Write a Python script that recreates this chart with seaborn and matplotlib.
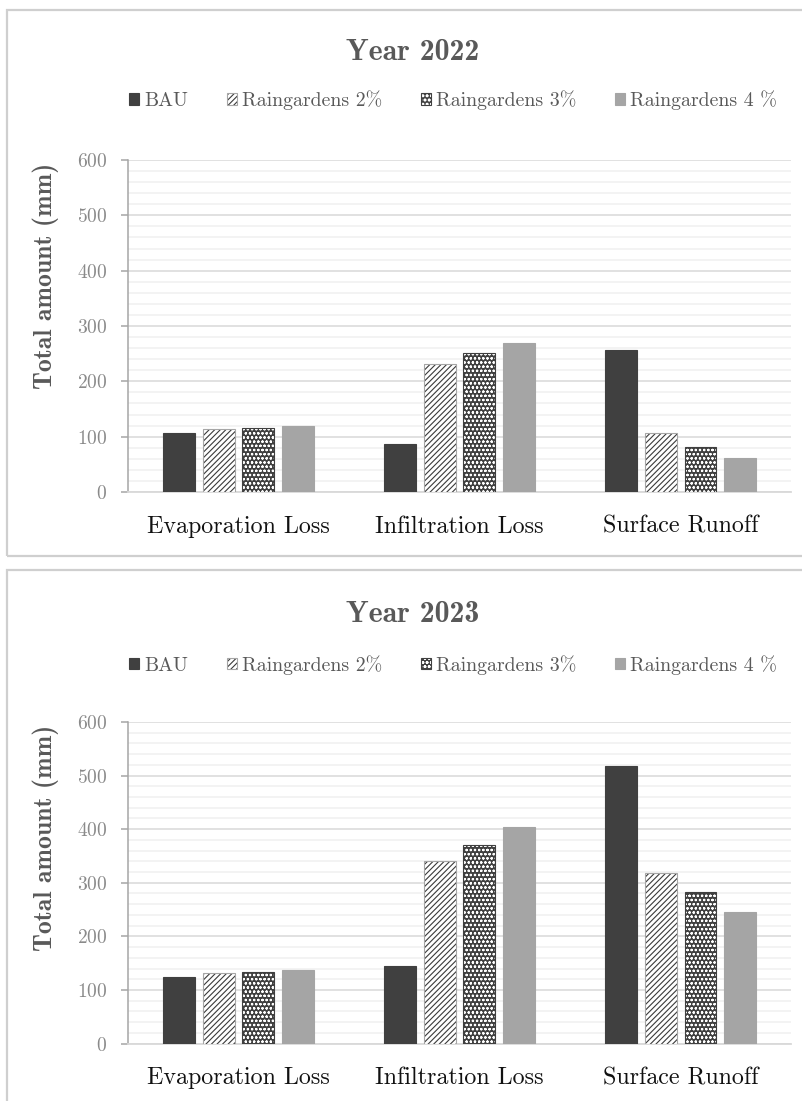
import matplotlib
matplotlib.use("Agg")
import matplotlib.pyplot as plt
import matplotlib.colors as mcolors
from matplotlib.patches import Patch, Rectangle
from matplotlib.ticker import MultipleLocator
import numpy as np
import pandas as pd
import seaborn as sns

# ---- data -------------------------------------------------------------
categories = ["Evaporation Loss", "Infiltration Loss", "Surface Runoff"]
scenarios = ["BAU", "Raingardens 2%", "Raingardens 3%", "Raingardens 4 %"]

bau_2022 = [107, 86, 257]
rg2_2022 = [113, 231, 106]
rg3_2022 = [116, 251, 82]
rg4_2022 = [120, 270, 61]

bau_2023 = [124, 145, 518]
rg2_2023 = [131, 340, 319]
rg3_2023 = [134, 371, 283]
rg4_2023 = [137, 404, 246]

years = ["Year 2022", "Year 2023"]
y_ticks = [0, 100, 200, 300, 400, 500, 600]

# ---- style ------------------------------------------------------------
sns.set_theme(style="white")
plt.rcParams["font.family"] = ["cmr10", "DejaVu Serif"]
plt.rcParams["axes.formatter.use_mathtext"] = True
plt.rcParams["hatch.linewidth"] = 0.8

DARK = "#404040"
LIGHT = "#a5a5a5"
EDGE = "#a6a6a6"
BOLD = ["cmb10", "DejaVu Serif"]

# face, edge, hatch, hatch colour, hatch width per scenario
styles = {
    "BAU": dict(face=DARK, edge=DARK, hatch=None, hcol=None, hlw=None),
    "Raingardens 2%": dict(face="white", edge=EDGE, hatch="//////", hcol="#3a3a3a", hlw=0.8),
    "Raingardens 3%": dict(face=DARK, edge=DARK, hatch="oooo", hcol="white", hlw=0.55),
    "Raingardens 4 %": dict(face=LIGHT, edge=LIGHT, hatch=None, hcol=None, hlw=None),
}


def style_patch(p, st):
    p.set_facecolor(st["face"])
    p.set_edgecolor(st["edge"])
    p.set_linewidth(0.8)
    if st["hatch"]:
        p.set_hatch(st["hatch"])
        p._hatch_color = mcolors.to_rgba(st["hcol"])
        setter = getattr(p, "set_hatch_linewidth", None)
        if setter is not None:
            setter(st["hlw"])


def make_frame(year_values):
    rows = []
    for scen, vals in zip(scenarios, year_values):
        for cat, v in zip(categories, vals):
            rows.append({"component": cat, "scenario": scen, "value": v})
    return pd.DataFrame(rows)


data = [
    make_frame([bau_2022, rg2_2022, rg3_2022, rg4_2022]),
    make_frame([bau_2023, rg2_2023, rg3_2023, rg4_2023]),
]

fig = plt.figure(figsize=(8.03, 11.01), dpi=100)

# panel geometry in figure fractions
axes_boxes = [
    [0.1594, 0.5531, 0.8257, 0.3016],
    [0.1594, 0.0522, 0.8257, 0.2920],
]
panel_boxes = [(0.495, 0.9909), (-0.02, 0.4823)]
title_y = [1 - 52 / 1101, 1 - 615 / 1101]
legend_y = [0.909, 0.396]
ylabel_y = [1 - 276 / 1101, 1 - 838 / 1101]

for i, df in enumerate(data):
    # panel border
    y0, y1 = panel_boxes[i]
    fig.add_artist(Rectangle((0.0087, y0), 1.05, y1 - y0, transform=fig.transFigure,
                             fill=False, edgecolor="#cfcfcf", linewidth=1.6))

    ax = fig.add_axes(axes_boxes[i])
    sns.barplot(data=df, x="component", y="value", hue="scenario",
                order=categories, hue_order=scenarios,
                palette=[DARK, "white", DARK, LIGHT],
                width=0.72, gap=0.2, legend=False, ax=ax, zorder=3)

    for scen, cont in zip(scenarios, ax.containers):
        for p in cont.patches:
            style_patch(p, styles[scen])

    ax.set_ylim(0, 600)
    ax.set_xlim(-0.5, 2.5)
    ax.yaxis.set_major_locator(MultipleLocator(100))
    ax.yaxis.set_minor_locator(MultipleLocator(20))
    ax.set_yticks(y_ticks)
    ax.grid(axis="y", which="major", color="#d9d9d9", linewidth=1.1, zorder=0)
    ax.grid(axis="y", which="minor", color="#f0f0f0", linewidth=1.1, zorder=0)
    ax.set_axisbelow(True)

    for s in ["top", "right"]:
        ax.spines[s].set_visible(False)
    ax.spines["left"].set_color(EDGE)
    ax.spines["left"].set_linewidth(1.1)
    ax.spines["bottom"].set_color("#d9d9d9")
    ax.spines["bottom"].set_linewidth(1.3)

    ax.tick_params(axis="y", which="major", direction="out", length=5, width=1.1,
                   color=EDGE, labelsize=14, labelcolor="#8a8a8a", pad=10, left=True)
    ax.tick_params(axis="y", which="minor", length=0)
    ax.tick_params(axis="x", length=0, labelsize=17.3, labelcolor="#111111", pad=17)
    ax.set_xlabel("")
    ax.set_ylabel("")

    fig.text(413 / 803, title_y[i], years[i], ha="center", va="center",
             fontsize=21.5, family=BOLD, color="#595959")
    fig.text(46 / 803, ylabel_y[i], "Total amount (mm)", rotation=90,
             ha="center", va="center", fontsize=18.5, family=BOLD, color="#595959")

    handles = []
    for scen in scenarios:
        h = Patch(label=scen)
        style_patch(h, styles[scen])
        handles.append(h)
    ax.legend(handles=handles, loc="center", ncol=4, frameon=False,
              bbox_to_anchor=(453 / 803, legend_y[i]), bbox_transform=fig.transFigure,
              fontsize=14.3, labelcolor="#595959", handlelength=0.5, handleheight=0.5,
              handletextpad=0.25, columnspacing=1.95)

fig.savefig("out.png", dpi=100)
